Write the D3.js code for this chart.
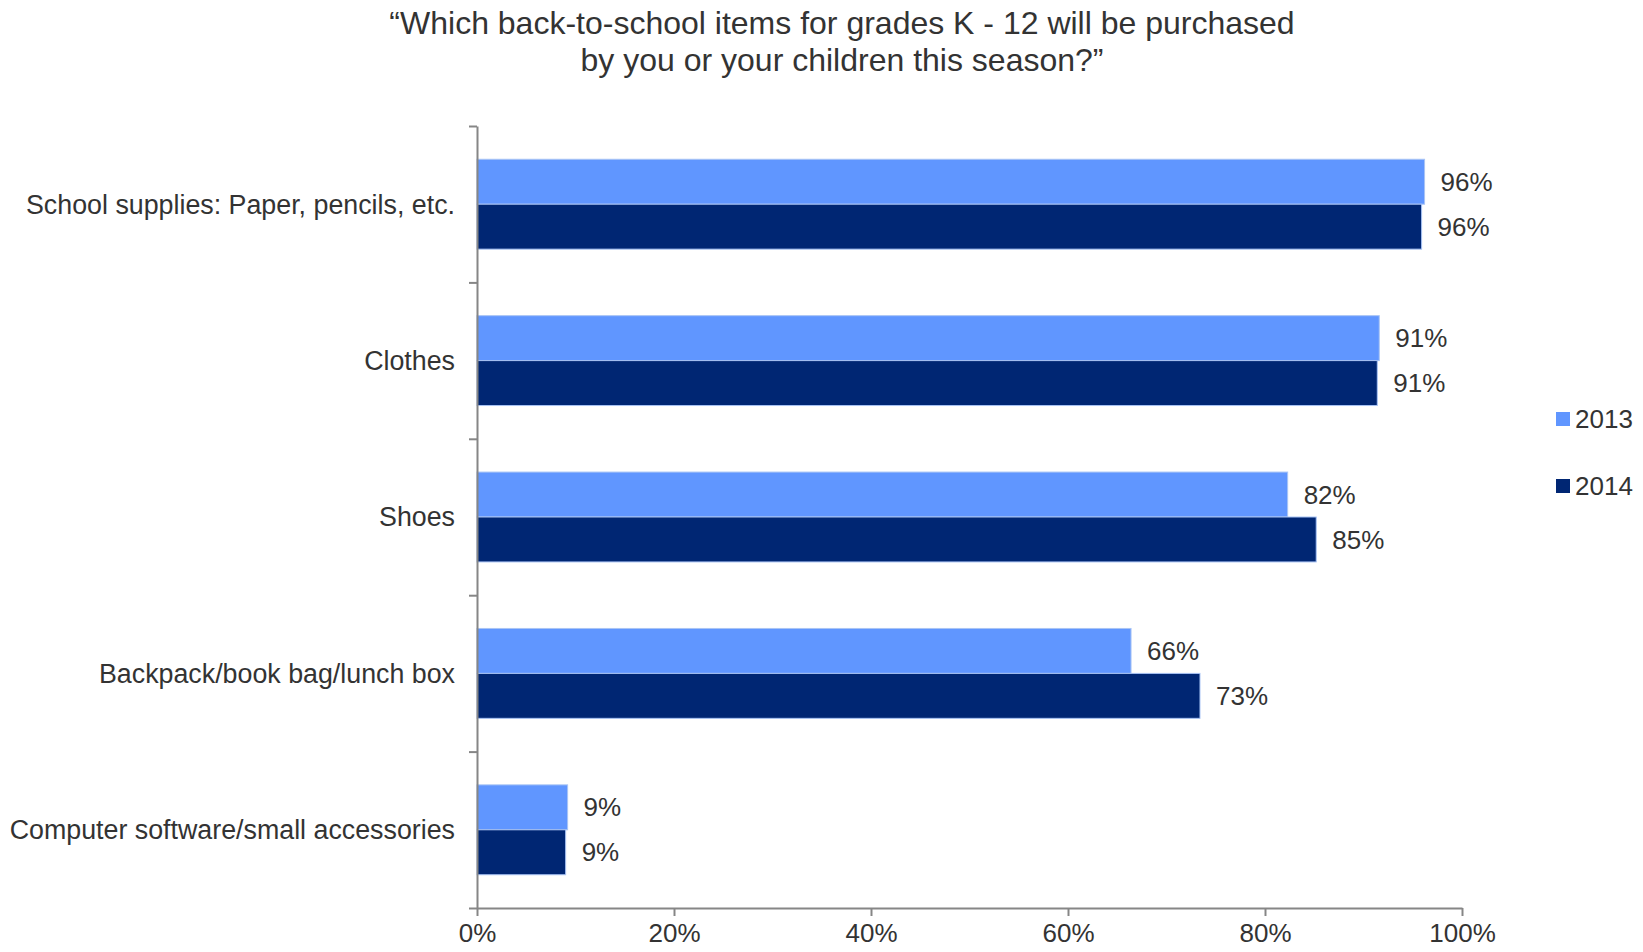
<!DOCTYPE html>
<html>
<head>
<meta charset="utf-8">
<script src="https://cdn.jsdelivr.net/npm/d3@7"></script>
<style>
  body { margin: 0; background: #fff; }
  text { font-family: "Liberation Sans", Arial, sans-serif; fill: #333; }
</style>
</head>
<body>
<div id="chart"></div>
<script>
const categories = [
  "School supplies: Paper, pencils, etc.",
  "Clothes",
  "Shoes",
  "Backpack/book bag/lunch box",
  "Computer software/small accessories"
]
const seriesNames = ["2013", "2014"]
const values2013 = [0.962, 0.916, 0.823, 0.664, 0.092]
const values2014 = [0.959, 0.914, 0.852, 0.734, 0.090]
const valueLabels2013 = ["96%", "91%", "82%", "66%", "9%"]
const valueLabels2014 = ["96%", "91%", "85%", "73%", "9%"]
const xTicks = [0, 0.2, 0.4, 0.6, 0.8, 1]
const titleLines = [
  "\u201CWhich back-to-school items for grades K - 12 will be purchased",
  "by you or your children this season?\u201D"
]
const colors = ["#6096ff", "#002673"]

async function drawChart() {
  let dimensions = {
    width: 1643,
    height: 952,
    margin: { top: 126, right: 181, bottom: 44, left: 477 },
  }
  dimensions.boundedWidth = dimensions.width - dimensions.margin.left - dimensions.margin.right
  dimensions.boundedHeight = dimensions.height - dimensions.margin.top - dimensions.margin.bottom

  const svg = d3.select("#chart")
    .append("svg")
      .attr("width", dimensions.width)
      .attr("height", dimensions.height)

  const bounds = svg.append("g")
    .attr("transform", `translate(${dimensions.margin.left},${dimensions.margin.top})`)

  const rows = categories.map((c, i) => ({
    category: c,
    series: [
      { name: seriesNames[0], value: values2013[i], label: valueLabels2013[i] },
      { name: seriesNames[1], value: values2014[i], label: valueLabels2014[i] },
    ]
  }))

  const xScale = d3.scaleLinear()
    .domain([0, 1])
    .range([0, dimensions.boundedWidth])

  const yScale = d3.scaleBand()
    .domain(categories)
    .range([0, dimensions.boundedHeight])
    .padding(0)

  const ySub = d3.scaleBand()
    .domain(seriesNames)
    .range([0, yScale.bandwidth()])
    .paddingInner(0)
    .paddingOuter(0.74)

  const colorScale = d3.scaleOrdinal().domain(seriesNames).range(colors)

  // bars
  const groups = bounds.selectAll(".row")
    .data(rows)
    .enter()
    .append("g")
      .attr("class", "row")
      .attr("transform", d => `translate(0,${yScale(d.category)})`)

  groups.selectAll("rect")
    .data(d => d.series)
    .enter()
    .append("rect")
      .attr("x", 0)
      .attr("y", d => ySub(d.name))
      .attr("width", d => xScale(d.value))
      .attr("height", ySub.bandwidth())
      .attr("fill", d => colorScale(d.name))
      .attr("stroke", "#a9c4f5")
      .attr("stroke-width", 1)

  groups.selectAll(".value")
    .data(d => d.series)
    .enter()
    .append("text")
      .attr("class", "value")
      .attr("x", d => xScale(d.value) + 16)
      .attr("y", d => ySub(d.name) + ySub.bandwidth() / 2)
      .attr("dy", "0.35em")
      .style("font-size", "26px")
      .text(d => d.label)

  // category labels
  bounds.selectAll(".cat")
    .data(categories)
    .enter()
    .append("text")
      .attr("class", "cat")
      .attr("x", -22)
      .attr("y", d => yScale(d) + yScale.bandwidth() / 2)
      .attr("dy", "0.35em")
      .attr("text-anchor", "end")
      .style("font-size", "26.8px")
      .text(d => d)

  // y axis: ticks at band boundaries
  const yEdge = d3.scaleLinear()
    .domain([0, categories.length])
    .range([0, dimensions.boundedHeight])

  bounds.append("g")
    .call(d3.axisLeft(yEdge)
      .tickValues(d3.range(categories.length + 1))
      .tickFormat("")
      .tickSize(8)
      .tickSizeOuter(0))

  const xAxis = bounds.append("g")
    .attr("transform", `translate(0,${dimensions.boundedHeight})`)
    .call(d3.axisBottom(xScale)
      .tickValues(xTicks)
      .tickFormat(d3.format(".0%"))
      .tickSize(8)
      .tickSizeOuter(0))

  svg.selectAll(".domain, .tick line")
    .attr("stroke", "#868686")
    .attr("stroke-width", 2)

  xAxis.selectAll(".tick text")
    .attr("y", 16)
    .attr("dy", "0.71em")
    .style("font-size", "26px")
    .style("font-family", "'Liberation Sans', Arial, sans-serif")
    .attr("fill", "#333")

  // legend
  const legend = svg.append("g")
    .attr("transform", "translate(1556,412)")

  const legendItems = legend.selectAll("g")
    .data(seriesNames)
    .enter()
    .append("g")
      .attr("transform", (d, i) => `translate(0,${i * 67})`)

  legendItems.append("rect")
    .attr("width", 14)
    .attr("height", 14)
    .attr("fill", d => colorScale(d))

  legendItems.append("text")
    .attr("x", 19)
    .attr("y", 7)
    .attr("dy", "0.35em")
    .style("font-size", "26px")
    .text(d => d)

  // title
  svg.append("g")
    .selectAll("text")
    .data(titleLines)
    .enter()
    .append("text")
      .attr("x", 842)
      .attr("y", (d, i) => 34 + i * 37)
      .attr("text-anchor", "middle")
      .style("font-size", "32px")
      .text(d => d)
}
drawChart()
</script>
</body>
</html>
